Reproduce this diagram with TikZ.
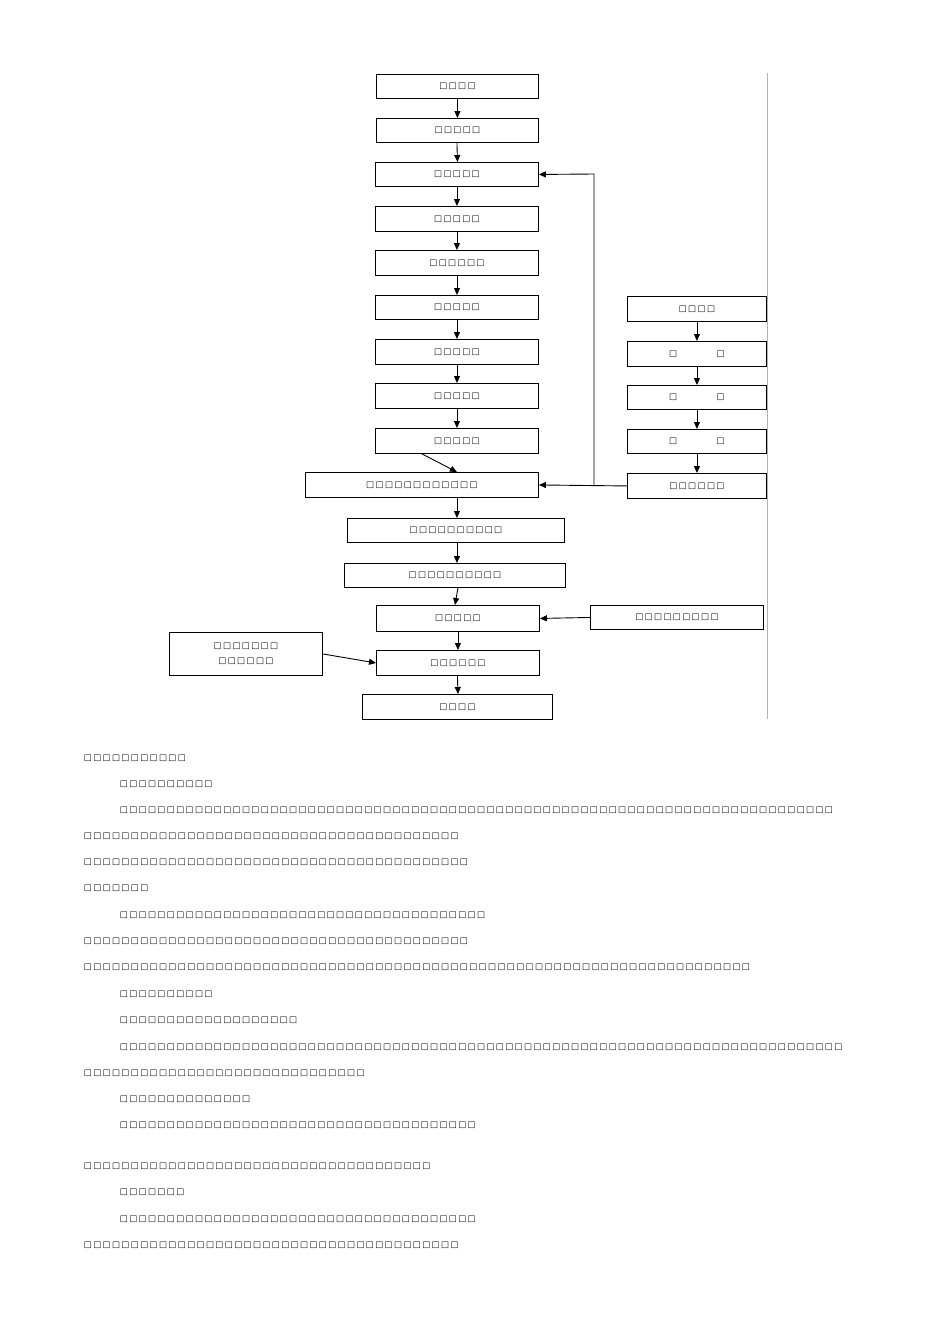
\documentclass[tikz,border=0pt]{standalone}
\usepackage{fontspec}
\setmainfont{DejaVu Sans}
\usetikzlibrary{arrows.meta}
\newcommand\tf[1]{\foreach\i in{1,...,#1}{\makebox[9.4pt]{\fontsize{8.5pt}{9pt}\selectfont □}}}
\begin{document}
\begin{tikzpicture}[x=1pt,y=-1pt,
 bx/.style={draw,line width=0.9pt,inner sep=0pt,anchor=north west},
 ar/.style={-{Triangle[length=7pt,width=6pt]},line width=0.9pt},
 tl/.style={anchor=west,inner sep=0pt}]
\useasboundingbox (0,0) rectangle (950,1344);
\def\B#1#2#3#4#5#6{\node[bx,minimum width=#4-#2,minimum height=#5-#3] (#1) at (#2,#3) {\tf{#6}};}
\B{a1}{376}{74}{538}{98}{4}
\B{a2}{376}{118}{538}{142}{5}
\B{a3}{375}{162}{538}{186}{5}
\B{a4}{375}{206}{538}{231}{5}
\B{a5}{375}{250}{538}{275}{6}
\B{a6}{375}{295}{538}{319}{5}
\B{a7}{375}{339}{538}{364}{5}
\B{a8}{375}{383}{538}{408}{5}
\B{a9}{375}{428}{538}{453}{5}
\B{a10}{305}{472}{538}{497}{12}
\B{a11}{347}{518}{564}{542}{10}
\B{a12}{344}{563}{565}{587}{10}
\B{a13}{376}{605}{539}{631}{5}
\B{a14}{376}{650}{539}{675}{6}
\B{a15}{362}{694}{552}{719}{4}
\B{r1}{627}{296}{766}{321}{4}
\node[bx,minimum width=139,minimum height=25] (r2) at (627,341) {\tf{1}\hspace{38pt}\tf{1}};
\node[bx,minimum width=139,minimum height=24] (r3) at (627,385) {\tf{1}\hspace{38pt}\tf{1}};
\node[bx,minimum width=139,minimum height=24] (r4) at (627,429) {\tf{1}\hspace{38pt}\tf{1}};
\B{r5}{627}{473}{766}{498}{6}
\B{r6}{590}{605}{763}{629}{9}
\node[bx,minimum width=153,minimum height=43,align=center] (l1) at (169,632) {\tf{7}\\[3pt]\tf{6}};
\draw[gray!60,line width=0.8pt] (767,73) -- (767,719);
\foreach \p/\q in {a1/a2,a2/a3,a3/a4,a4/a5,a5/a6,a6/a7,a7/a8,a8/a9,a9/a10,a12/a13,a13/a14,a14/a15,r1/r2,r2/r3,r3/r4,r4/r5}
 \draw[ar] (\p.south -| \q.north) ++(0,0) -- (\q.north -| \p.south);
\draw[ar] (a10.south -| a9.south) -- (a11.north -| a9.south);
\draw[ar] (a11.south -| a9.south) -- (a12.north -| a9.south);
\coordinate (j) at (594,486);
\draw[ar] (r5.west) -- (a10.east);
\draw[ar] (j) -- (594,174) -- (a3.east);
\draw[ar] (r6.west) -- (a13.east);
\draw[ar] (l1.east) -- (a14.west);
\foreach \x/\y/\n in {83/758/11,119/784/10,119/810/76,83/836/40,83/862/41,83/888/7,119/915/39,83/941/41,83/967/71,119/994/10,119/1020/19,119/1047/77,83/1073/30,119/1099/14,119/1125/38,83/1166/37,119/1192/7,119/1219/38,83/1245/40}
 \node[tl] (t\y) at (\x,\y) {\tf{\n}};
\end{tikzpicture}
\end{document}
